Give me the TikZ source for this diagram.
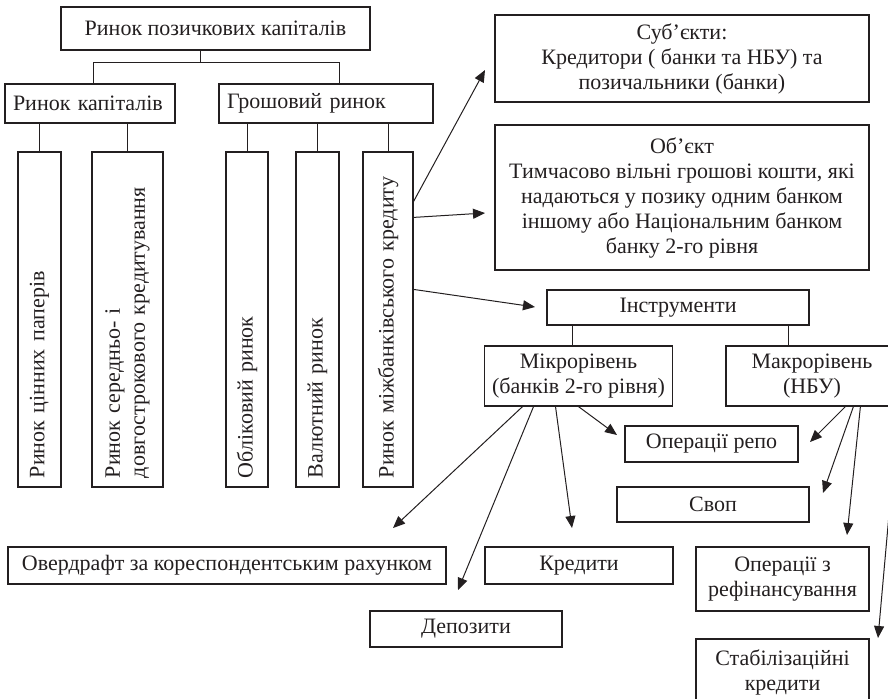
\documentclass[tikz,border=0pt]{standalone}
\usepackage{fontspec}
\setmainfont{Liberation Serif}
\usepackage{xcolor}
\usepackage{tikz}
\usetikzlibrary{calc,arrows.meta,positioning}
\definecolor{ink}{HTML}{231F20}
\tikzset{
  box/.style={draw=ink, text=ink, line width=0.6pt, inner xsep=4pt, inner ysep=2pt, align=center, font=\fontsize{11}{12.5}\selectfont},
  lbox/.style={box, align=left},
  vbox/.style={box, rotate=90, align=left, inner xsep=4.5pt, text width=158.5pt},
  link/.style={draw=ink, line width=0.5pt},
  arr/.style={link, -{Triangle[length=6pt,width=5pt]}},
}
\begin{document}
\begin{tikzpicture}[x=0.5pt, y=-0.5pt]
\useasboundingbox (0,0) rectangle (888,698);
\clip (0,0) rectangle (888,698);

\node[box, minimum width=154.5pt, minimum height=21.5pt] (main) at (215.5,28.5) {Ринок позичкових капіталів};
\node[lbox, text width=77pt, minimum height=19.5pt] (capm) at (90,103.5) {Ринок капіталів};
\node[lbox, text width=99pt, minimum height=19.5pt] (monm) at (326,103.5) {Грошовий ринок};

\node[vbox, minimum height=21.5pt] (secm) at (39.5,319.5) {Ринок цінних паперів};
\node[vbox, minimum height=35.5pt] (ltcm) at (127.5,319.5) {Ринок середньо- і\\довгострокового кредитування};
\node[vbox, minimum height=21pt] (discm) at (247,319.5) {Обліковий ринок};
\node[vbox, minimum height=21.5pt] (fxm) at (317.5,319.5) {Валютний ринок};
\node[vbox, minimum height=25pt] (ibm) at (388,319.5) {Ринок міжбанківського кредиту};

\node[box, minimum width=187pt, minimum height=43.5pt] (subj) at (682,58.5) {Суб’єкти:\\Кредитори ( банки та НБУ) та\\позичальники (банки)};
\node[box, minimum width=187pt, minimum height=72.5pt] (obj) at (682,197.5) {Об’єкт\\Тимчасово вільні грошові кошти, які\\надаються у позику одним банком\\іншому або Національним банком\\банку 2-го рівня};
\node[box, minimum width=131pt, minimum height=17.5pt] (instr) at (678,307.5) {Інструменти};
\node[box, minimum width=93.5pt, minimum height=30pt] (micro) at (578.5,376) {Мікрорівень\\(банків 2-го рівня)};
\node[box, minimum width=86pt, minimum height=30pt] (macro) at (812,376) {Макрорівень\\(НБУ)};
\node[box, minimum width=86.5pt, minimum height=18pt] (repo) at (711.5,444) {Операції репо};
\node[box, minimum width=96pt, minimum height=17.5pt] (swap) at (713,504.5) {Своп};
\node[box, minimum width=219pt, minimum height=18.5pt] (overd) at (227,565.5) {Овердрафт за кореспондентським рахунком};
\node[box, minimum width=94pt, minimum height=18.5pt] (cred) at (579,565.5) {Кредити};
\node[box, minimum width=86.5pt, minimum height=32pt] (refin) at (782.5,579) {Операції з\\рефінансування};
\node[box, minimum width=96pt, minimum height=18pt] (depo) at (466,629) {Депозити};
\node[box, minimum width=86.5pt, minimum height=33pt] (stab) at (782.5,672) {Стабілізаційні\\кредити};

\coordinate (toSubj) at (485,70);
\coordinate (toObj) at (485,213);
\coordinate (toInstr) at (535,307);
\coordinate (toOverd) at (393,528);
\coordinate (toDepo) at (458,590);
\coordinate (toCred) at (572,528);
\coordinate (toRepoL) at (617,435);
\coordinate (toRepoR) at (810,442);
\coordinate (toSwap) at (823,493);
\coordinate (toRefin) at (847,535);
\coordinate (toStab) at (878,638);

\draw[link] ([xshift=-7.75pt]main.south) -- ++(0,12) -| ([xshift=1.5pt]capm.north);
\draw[link] ([xshift=-7.75pt]main.south) ++(0,12) -| ([xshift=6.5pt]monm.north);
\foreach \v in {secm,ltcm} \draw[link] (\v.east) -- (\v.east |- capm.south);
\foreach \v in {discm,fxm,ibm} \draw[link] (\v.east) -- (\v.east |- monm.south);
\draw[link] ([xshift=-3.25pt]micro.north) -- ([xshift=-3.25pt]micro.north |- instr.south);
\draw[link] ([xshift=-12pt]macro.north) -- ([xshift=-12pt]macro.north |- instr.south);

\draw[arr] ($(ibm.south east)+(0,50)$) -- (toSubj);
\draw[arr] ($(ibm.south east)+(0,66)$) -- (toObj);
\draw[arr] ($(ibm.south east)+(0,138)$) -- (toInstr);
\foreach \dx/\t in {39/toOverd,50/toDepo,72/toCred,95/toRepoL}
  \draw[arr] ($(micro.south west)+(\dx,0)$) -- (\t);
\foreach \dx/\t in {120/toRepoR,128/toSwap,135/toRefin}
  \draw[arr] ($(macro.south west)+(\dx,0)$) -- (\t);
\draw[arr] (macro.south east) -- (toStab);
\end{tikzpicture}
\end{document}
